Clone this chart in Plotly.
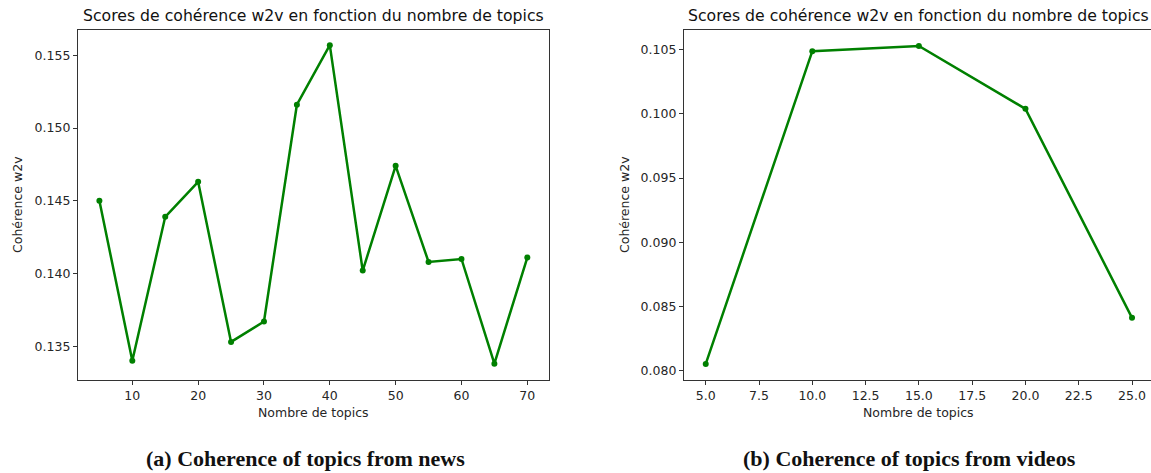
import plotly.graph_objects as go

# Coherence (w2v) per number of topics
news_topics = [5, 10, 15, 20, 25, 30, 35, 40, 45, 50, 55, 60, 65, 70]
news_scores = [0.1450, 0.1340, 0.1439, 0.1463, 0.1353, 0.1367, 0.1516,
               0.1557, 0.1402, 0.1474, 0.1408, 0.1410, 0.1338, 0.1411]

video_topics = [5, 10, 15, 20, 25]
video_scores = [0.0805, 0.1049, 0.1053, 0.1004, 0.0841]

news_xticks = [10, 20, 30, 40, 50, 60, 70]
news_yticks = [0.135, 0.140, 0.145, 0.150, 0.155]
video_xticks = [5.0, 7.5, 10.0, 12.5, 15.0, 17.5, 20.0, 22.5, 25.0]
video_yticks = [0.080, 0.085, 0.090, 0.095, 0.100, 0.105]

plot_title = "Scores de cohérence w2v en fonction du nombre de topics"
x_title = "Nombre de topics"
y_title = "Cohérence w2v"
captions = ["(a) Coherence of topics from news", "(b) Coherence of topics from videos"]

W, H = 1151, 473
GREEN = "#008000"
TXT = "#262626"
SANS = "DejaVu Sans"

fig = go.Figure()
fig.add_trace(go.Scatter(x=news_topics, y=news_scores, mode="lines+markers",
                         line=dict(color=GREEN, width=2.5),
                         marker=dict(color=GREEN, size=6),
                         xaxis="x", yaxis="y", showlegend=False))
fig.add_trace(go.Scatter(x=video_topics, y=video_scores, mode="lines+markers",
                         line=dict(color=GREEN, width=2.5),
                         marker=dict(color=GREEN, size=6),
                         xaxis="x2", yaxis="y2", showlegend=False))

y_dom = [(H - 380) / H, (H - 30) / H]
left_dom = [78 / W, 548.7 / W]
right_dom = [684 / W, 1.0]

axis_common = dict(showgrid=False, zeroline=False, showline=True,
                   linecolor="#333333", linewidth=1.2,
                   ticks="outside", ticklen=4, tickwidth=1, tickcolor="#333333",
                   tickfont=dict(family=SANS, size=12.5, color=TXT))

fig.update_layout(
    width=W, height=H,
    margin=dict(l=0, r=0, t=0, b=0),
    paper_bgcolor="white", plot_bgcolor="white",
    xaxis=dict(domain=left_dom, range=[1.75, 73.25], tickvals=news_xticks,
               mirror=True, anchor="y", **axis_common),
    yaxis=dict(domain=y_dom, range=[0.13268, 0.15674], tickvals=news_yticks,
               tickformat=".3f", mirror=True, anchor="x", **axis_common),
    xaxis2=dict(domain=right_dom, range=[3.98, 25.89], tickvals=video_xticks,
                tickformat=".1f", mirror=True, anchor="y2", **axis_common),
    yaxis2=dict(domain=y_dom, range=[0.07925, 0.10655], tickvals=video_yticks,
                tickformat=".3f", mirror=False, anchor="x2", **axis_common),
)

annotations = []
for dom, ylab_x in [(left_dom, 17 / W), ([684 / W, 1153 / W], 624 / W)]:
    cx = (dom[0] + dom[1]) / 2
    annotations.append(dict(text=plot_title, x=cx, y=(H - 15) / H, xref="paper", yref="paper",
                            showarrow=False, xanchor="center", yanchor="middle",
                            font=dict(family=SANS, size=15.7, color="#111111")))
    annotations.append(dict(text=x_title, x=cx, y=(H - 412) / H, xref="paper", yref="paper",
                            showarrow=False, xanchor="center", yanchor="middle",
                            font=dict(family=SANS, size=12.5, color=TXT)))
    annotations.append(dict(text=y_title, x=ylab_x, y=(H - 205) / H, xref="paper", yref="paper",
                            showarrow=False, xanchor="center", yanchor="middle", textangle=-90,
                            font=dict(family=SANS, size=12.5, color=TXT)))
for cap, cx in zip(captions, [305 / W, 909 / W]):
    annotations.append(dict(text="<b>" + cap + "</b>", x=cx, y=(H - 458) / H,
                            xref="paper", yref="paper", showarrow=False,
                            xanchor="center", yanchor="middle",
                            font=dict(family="Liberation Serif", size=22, color="#111111")))
fig.update_layout(annotations=annotations)

fig.write_html("out.html")
